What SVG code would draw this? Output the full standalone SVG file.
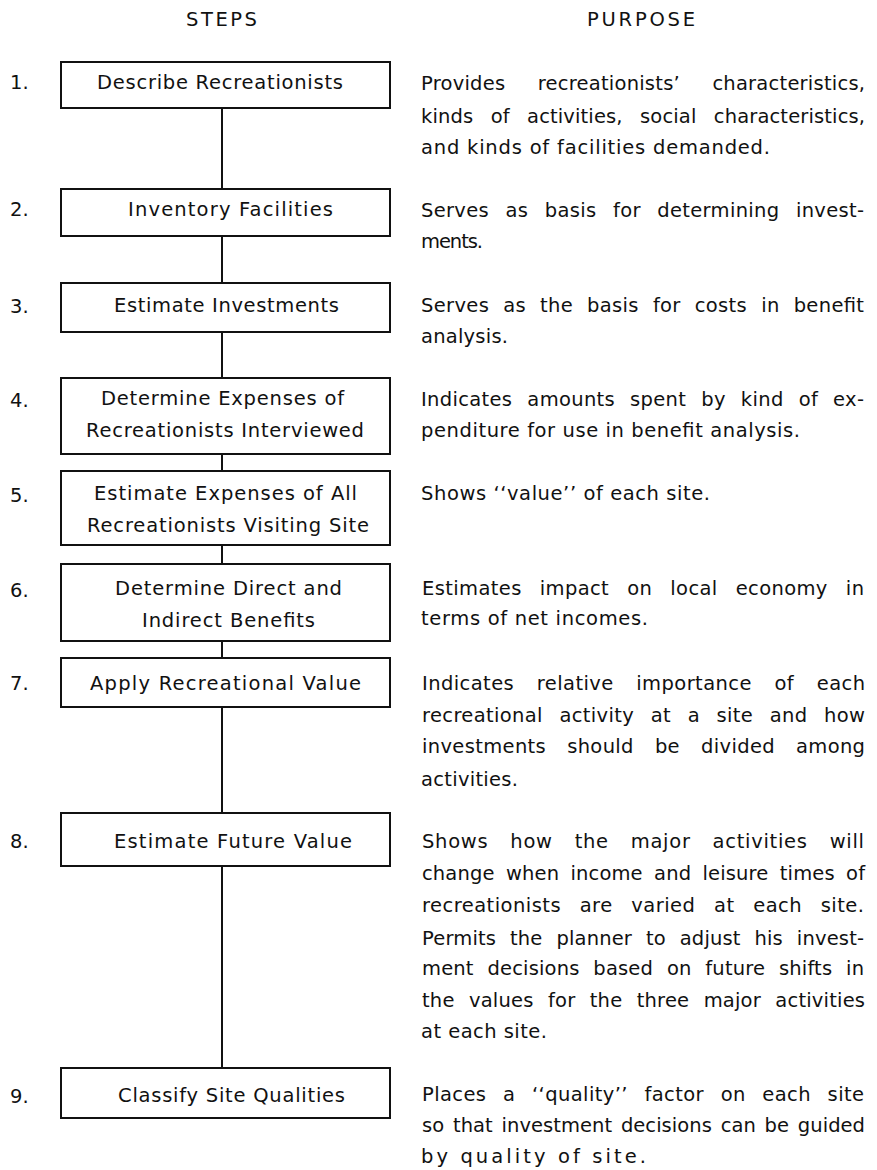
<svg xmlns="http://www.w3.org/2000/svg" width="877" height="1170" viewBox="0 0 877 1170">
<style>
text{font-family:"DejaVu Sans","Liberation Sans",Arial,sans-serif;font-size:19.5px;fill:#111}
.box{fill:#fff;stroke:#111;stroke-width:2}
.con line{stroke:#111;stroke-width:2}
</style>
<rect width="877" height="1170" fill="#fff"/>
<text x="186" y="26" textLength="71" lengthAdjust="spacing">STEPS</text>
<text x="587" y="26" textLength="108" lengthAdjust="spacing">PURPOSE</text>
<g class="con" id="connectors">
<line x1="222" y1="108" x2="222" y2="189"/>
<line x1="222" y1="236" x2="222" y2="283"/>
<line x1="222" y1="332" x2="222" y2="378"/>
<line x1="222" y1="454" x2="222" y2="471"/>
<line x1="222" y1="545" x2="222" y2="564"/>
<line x1="222" y1="641" x2="222" y2="658"/>
<line x1="222" y1="707" x2="222" y2="813"/>
<line x1="222" y1="866" x2="222" y2="1068"/>
</g>
<g id="step1">
<text x="10" y="89">1.</text>
<rect class="box" x="61" y="62" width="329" height="46"/>
<text x="97" y="89" textLength="246" lengthAdjust="spacing"><tspan>Describe</tspan> <tspan>Recreationists</tspan></text>
<text x="421" y="90" textLength="444" lengthAdjust="spacing" word-spacing="26"><tspan>Provides</tspan> <tspan>recreationists’</tspan> <tspan>characteristics,</tspan></text>
<text x="421" y="123" textLength="444" lengthAdjust="spacing" word-spacing="11"><tspan>kinds</tspan> <tspan>of</tspan> <tspan>activities,</tspan> <tspan>social</tspan> <tspan>characteristics,</tspan></text>
<text x="421" y="154" textLength="349" lengthAdjust="spacing"><tspan>and</tspan> <tspan>kinds</tspan> <tspan>of</tspan> <tspan>facilities</tspan> <tspan>demanded.</tspan></text>
</g>
<g id="step2">
<text x="10" y="216">2.</text>
<rect class="box" x="61" y="189" width="329" height="47"/>
<text x="128" y="216" textLength="205" lengthAdjust="spacing"><tspan>Inventory</tspan> <tspan>Facilities</tspan></text>
<text x="421" y="217" textLength="443" lengthAdjust="spacing" word-spacing="10"><tspan>Serves</tspan> <tspan>as</tspan> <tspan>basis</tspan> <tspan>for</tspan> <tspan>determining</tspan> <tspan>invest-</tspan></text>
<text x="421" y="248" textLength="62" lengthAdjust="spacing">ments.</text>
</g>
<g id="step3">
<text x="10" y="313">3.</text>
<rect class="box" x="61" y="283" width="329" height="49"/>
<text x="114" y="312" textLength="225" lengthAdjust="spacing"><tspan>Estimate</tspan> <tspan>Investments</tspan></text>
<text x="421" y="312" textLength="443" lengthAdjust="spacing" word-spacing="7.5"><tspan>Serves</tspan> <tspan>as</tspan> <tspan>the</tspan> <tspan>basis</tspan> <tspan>for</tspan> <tspan>costs</tspan> <tspan>in</tspan> <tspan>benefit</tspan></text>
<text x="421" y="343" textLength="87" lengthAdjust="spacing">analysis.</text>
</g>
<g id="step4">
<text x="10" y="407">4.</text>
<rect class="box" x="61" y="378" width="329" height="76"/>
<text x="101" y="405" textLength="243" lengthAdjust="spacing"><tspan>Determine</tspan> <tspan>Expenses</tspan> <tspan>of</tspan></text>
<text x="86" y="437" textLength="278" lengthAdjust="spacing"><tspan>Recreationists</tspan> <tspan>Interviewed</tspan></text>
<text x="421" y="406" textLength="443" lengthAdjust="spacing" word-spacing="8.5"><tspan>Indicates</tspan> <tspan>amounts</tspan> <tspan>spent</tspan> <tspan>by</tspan> <tspan>kind</tspan> <tspan>of</tspan> <tspan>ex-</tspan></text>
<text x="421" y="437" textLength="379" lengthAdjust="spacing"><tspan>penditure</tspan> <tspan>for</tspan> <tspan>use</tspan> <tspan>in</tspan> <tspan>benefit</tspan> <tspan>analysis.</tspan></text>
</g>
<g id="step5">
<text x="10" y="502">5.</text>
<rect class="box" x="61" y="471" width="329" height="74"/>
<text x="94" y="500" textLength="263" lengthAdjust="spacing"><tspan>Estimate</tspan> <tspan>Expenses</tspan> <tspan>of</tspan> <tspan>All</tspan></text>
<text x="87" y="532" textLength="282" lengthAdjust="spacing"><tspan>Recreationists</tspan> <tspan>Visiting</tspan> <tspan>Site</tspan></text>
<text x="421" y="500" textLength="289" lengthAdjust="spacing"><tspan>Shows</tspan> <tspan>‘‘value’’</tspan> <tspan>of</tspan> <tspan>each</tspan> <tspan>site.</tspan></text>
</g>
<g id="step6">
<text x="10" y="597">6.</text>
<rect class="box" x="61" y="564" width="329" height="77"/>
<text x="115" y="595" textLength="227" lengthAdjust="spacing"><tspan>Determine</tspan> <tspan>Direct</tspan> <tspan>and</tspan></text>
<text x="142" y="627" textLength="173" lengthAdjust="spacing"><tspan>Indirect</tspan> <tspan>Benefits</tspan></text>
<text x="422" y="595" textLength="442" lengthAdjust="spacing" word-spacing="11.5"><tspan>Estimates</tspan> <tspan>impact</tspan> <tspan>on</tspan> <tspan>local</tspan> <tspan>economy</tspan> <tspan>in</tspan></text>
<text x="421" y="625" textLength="227" lengthAdjust="spacing"><tspan>terms</tspan> <tspan>of</tspan> <tspan>net</tspan> <tspan>incomes.</tspan></text>
</g>
<g id="step7">
<text x="10" y="690">7.</text>
<rect class="box" x="61" y="658" width="329" height="49"/>
<text x="90" y="690" textLength="271" lengthAdjust="spacing"><tspan>Apply</tspan> <tspan>Recreational</tspan> <tspan>Value</tspan></text>
<text x="422" y="690" textLength="443" lengthAdjust="spacing" word-spacing="16"><tspan>Indicates</tspan> <tspan>relative</tspan> <tspan>importance</tspan> <tspan>of</tspan> <tspan>each</tspan></text>
<text x="422" y="722" textLength="443" lengthAdjust="spacing" word-spacing="10"><tspan>recreational</tspan> <tspan>activity</tspan> <tspan>at</tspan> <tspan>a</tspan> <tspan>site</tspan> <tspan>and</tspan> <tspan>how</tspan></text>
<text x="422" y="753" textLength="443" lengthAdjust="spacing" word-spacing="14.5"><tspan>investments</tspan> <tspan>should</tspan> <tspan>be</tspan> <tspan>divided</tspan> <tspan>among</tspan></text>
<text x="421" y="786" textLength="97" lengthAdjust="spacing">activities.</text>
</g>
<g id="step8">
<text x="10" y="848">8.</text>
<rect class="box" x="61" y="813" width="329" height="53"/>
<text x="114" y="848" textLength="238" lengthAdjust="spacing"><tspan>Estimate</tspan> <tspan>Future</tspan> <tspan>Value</tspan></text>
<text x="422" y="848" textLength="442" lengthAdjust="spacing" word-spacing="15"><tspan>Shows</tspan> <tspan>how</tspan> <tspan>the</tspan> <tspan>major</tspan> <tspan>activities</tspan> <tspan>will</tspan></text>
<text x="422" y="880" textLength="443" lengthAdjust="spacing" word-spacing="5"><tspan>change</tspan> <tspan>when</tspan> <tspan>income</tspan> <tspan>and</tspan> <tspan>leisure</tspan> <tspan>times</tspan> <tspan>of</tspan></text>
<text x="422" y="912" textLength="442" lengthAdjust="spacing" word-spacing="12"><tspan>recreationists</tspan> <tspan>are</tspan> <tspan>varied</tspan> <tspan>at</tspan> <tspan>each</tspan> <tspan>site.</tspan></text>
<text x="422" y="945" textLength="442" lengthAdjust="spacing" word-spacing="7.5"><tspan>Permits</tspan> <tspan>the</tspan> <tspan>planner</tspan> <tspan>to</tspan> <tspan>adjust</tspan> <tspan>his</tspan> <tspan>invest-</tspan></text>
<text x="422" y="975" textLength="442" lengthAdjust="spacing" word-spacing="7.5"><tspan>ment</tspan> <tspan>decisions</tspan> <tspan>based</tspan> <tspan>on</tspan> <tspan>future</tspan> <tspan>shifts</tspan> <tspan>in</tspan></text>
<text x="422" y="1007" textLength="443" lengthAdjust="spacing" word-spacing="8"><tspan>the</tspan> <tspan>values</tspan> <tspan>for</tspan> <tspan>the</tspan> <tspan>three</tspan> <tspan>major</tspan> <tspan>activities</tspan></text>
<text x="421" y="1038" textLength="126" lengthAdjust="spacing"><tspan>at</tspan> <tspan>each</tspan> <tspan>site.</tspan></text>
</g>
<g id="step9">
<text x="10" y="1103">9.</text>
<rect class="box" x="61" y="1068" width="329" height="50"/>
<text x="118" y="1102" textLength="227" lengthAdjust="spacing"><tspan>Classify</tspan> <tspan>Site</tspan> <tspan>Qualities</tspan></text>
<text x="422" y="1101" textLength="442" lengthAdjust="spacing" word-spacing="10"><tspan>Places</tspan> <tspan>a</tspan> <tspan>‘‘quality’’</tspan> <tspan>factor</tspan> <tspan>on</tspan> <tspan>each</tspan> <tspan>site</tspan></text>
<text x="422" y="1132" textLength="443" lengthAdjust="spacing" word-spacing="2.5"><tspan>so</tspan> <tspan>that</tspan> <tspan>investment</tspan> <tspan>decisions</tspan> <tspan>can</tspan> <tspan>be</tspan> <tspan>guided</tspan></text>
<text x="421" y="1163" textLength="225" lengthAdjust="spacing"><tspan>by</tspan> <tspan>quality</tspan> <tspan>of</tspan> <tspan>site.</tspan></text>
</g>
</svg>
